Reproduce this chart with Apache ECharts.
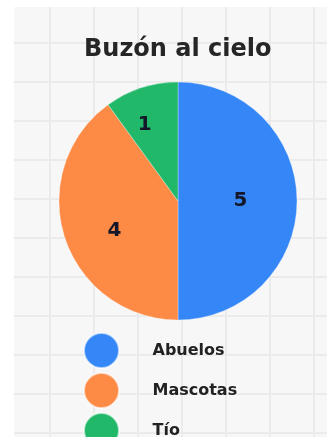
<!DOCTYPE html>
<html>
<head>
<meta charset="utf-8">
<script src="https://cdn.jsdelivr.net/npm/echarts@6/dist/echarts.min.js"></script>
<style>
  html, body { margin: 0; padding: 0; background: #ffffff; }
  #wrap { position: relative; width: 327px; height: 437px; overflow: hidden; }
  #paper {
    position: absolute; left: 14px; top: 7px; right: 0; bottom: 0;
    background-color: #f7f7f7;
    background-image:
      linear-gradient(to right, #ebebeb 2px, transparent 2px),
      linear-gradient(to bottom, #ebebeb 2px, transparent 2px);
    background-size: 44px 39px;
    background-position: 35px 35px;
  }
  #chart { position: absolute; left: 0; top: 0; width: 327px; height: 437px; }
</style>
</head>
<body>
<div id="wrap">
  <div id="paper"></div>
  <div id="chart"></div>
</div>
<script>
const titleText = 'Buzón al cielo';
const categories = ['Abuelos', 'Mascotas', 'Tío'];
const values = [5, 4, 1];
const colors = ['#3587f7', '#fd8a45', '#21b86a'];

const chart = echarts.init(document.getElementById('chart'), null, { renderer: 'canvas' });
const fontFam = '"DejaVu Sans", "Noto Sans", sans-serif';

chart.setOption({
  backgroundColor: 'transparent',
  animation: false,
  title: {
    text: titleText,
    left: 84,
    top: 38,
    padding: 0,
    textStyle: { fontFamily: fontFam, fontSize: 24, fontWeight: 'bold', color: '#262626' }
  },
  legend: {
    orient: 'vertical',
    left: 83,
    top: 332,
    height: 140,
    padding: 0,
    icon: 'circle',
    itemWidth: 36,
    itemHeight: 35,
    itemGap: 3,
    data: categories,
    textStyle: { fontFamily: fontFam, fontSize: 16, fontWeight: 'bold', color: '#222222', padding: [0, 0, 0, 28] }
  },
  series: [{
    type: 'pie',
    center: [178, 201],
    radius: 119,
    startAngle: 90,
    clockwise: true,
    silent: true,
    itemStyle: { borderColor: 'rgba(255,255,255,0.6)', borderWidth: 0.5 },
    label: {
      show: true,
      position: 'inside',
      formatter: '{c}',
      fontFamily: fontFam,
      fontSize: 20,
      fontWeight: 'bold',
      color: '#14172a'
    },
    labelLine: { show: false },
    data: categories.map((name, i) => {
      const d = { name: name, value: values[i], itemStyle: { color: colors[i] } };
      if (i === 1) d.label = { offset: [-4, 10] };
      if (i === 2) d.label = { offset: [-14, -17] };
      return d;
    })
  }]
});
</script>
</body>
</html>
